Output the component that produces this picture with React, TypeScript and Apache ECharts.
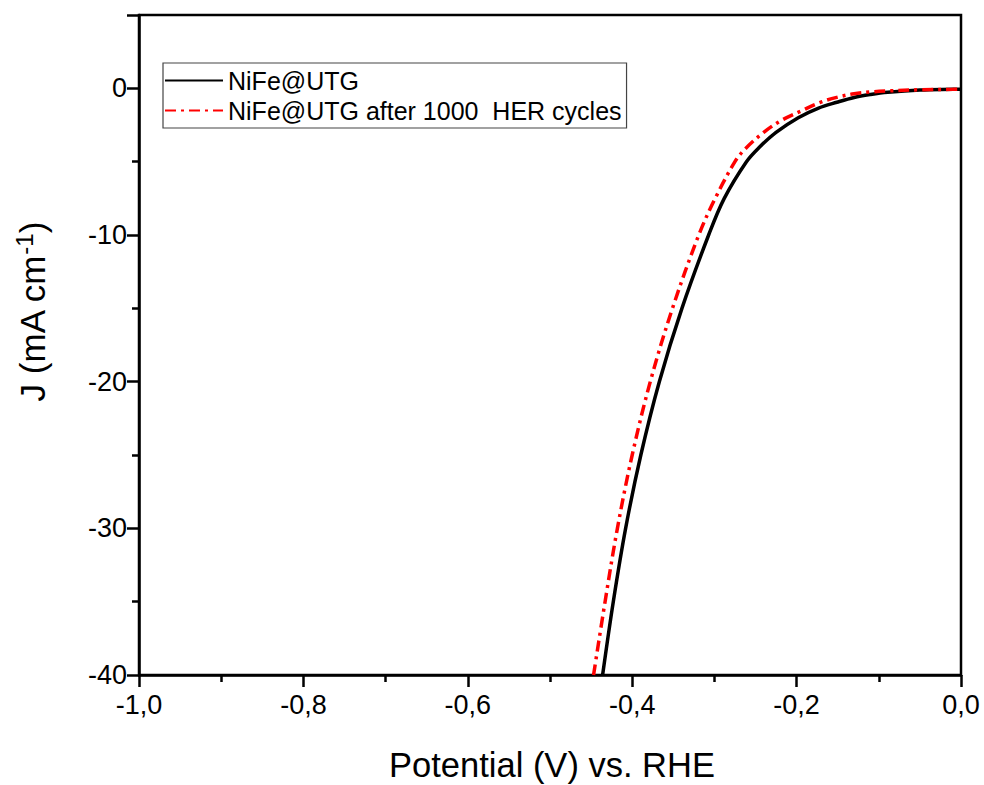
import React, { useEffect, useRef } from "react";
import * as echarts from "echarts";

const seriesNames = ["NiFe@UTG", "NiFe@UTG after 1000  HER cycles"];

// [potential (V vs RHE), current density (mA cm-1)]
const freshCurve: [number, number][] = [
  [-0.436, -40], [-0.423, -35], [-0.408, -30], [-0.3895, -25], [-0.367, -20],
  [-0.3395, -15], [-0.307, -10], [-0.288, -7.5], [-0.261, -5], [-0.245, -4],
  [-0.225, -3], [-0.198, -2.0], [-0.174, -1.36], [-0.151, -0.95], [-0.130, -0.62],
  [-0.110, -0.42], [-0.089, -0.27], [-0.050, -0.12], [-0.010, -0.07], [0, -0.06],
];
const cycledCurve: [number, number][] = [
  [-0.447, -40], [-0.433, -35], [-0.418, -30], [-0.400, -25], [-0.378, -20],
  [-0.351, -15], [-0.319, -10], [-0.299, -7.5], [-0.275, -5], [-0.262, -4.1],
  [-0.240, -3.0], [-0.219, -2.2], [-0.193, -1.5], [-0.171, -0.95], [-0.150, -0.6],
  [-0.130, -0.37], [-0.110, -0.25], [-0.089, -0.18], [-0.050, -0.1], [-0.010, -0.07], [0, -0.06],
];

const xMin = -1.0, xMax = 0.0, xStep = 0.2;
const yMin = -40, yMax = 5, yStep = 10;

const FONT = "Liberation Sans, Arial, sans-serif";

export default function App() {
  const ref = useRef<HTMLDivElement>(null);
  useEffect(() => {
    if (!ref.current) return;
    const chart = echarts.init(ref.current, undefined, { renderer: "svg" });
    chart.setOption({
      animation: false,
      backgroundColor: "#ffffff",
      grid: {
        left: 139, top: 15, right: 23, bottom: 110,
        show: true, borderColor: "#000", borderWidth: 2.5, backgroundColor: "transparent",
      },
      legend: {
        orient: "vertical",
        left: 163, top: 63,
        data: seriesNames,
        itemWidth: 58, itemHeight: 14, itemGap: 5,
        padding: [5, 5, 5, 1],
        borderColor: "#444", borderWidth: 1.2,
        itemStyle: { opacity: 0 },
        textStyle: { fontFamily: FONT, fontSize: 25, color: "#000", padding: [0, 0, 0, 0] },
      },
      xAxis: {
        type: "value", min: xMin, max: xMax, interval: xStep,
        axisLine: { show: true, onZero: false, lineStyle: { color: "#000", width: 2.5 } },
        axisTick: { show: true, inside: false, length: 12, lineStyle: { color: "#000", width: 2.5 } },
        minorTick: { show: true, splitNumber: 2, length: 7, lineStyle: { color: "#000", width: 2.5 } },
        splitLine: { show: false },
        axisLabel: {
          fontFamily: FONT, fontSize: 27, color: "#000", margin: 16,
          formatter: (v: number) => v.toFixed(1).replace(".", ","),
        },
      },
      yAxis: {
        type: "value", min: yMin, max: yMax, interval: yStep,
        axisLine: { show: true, onZero: false, lineStyle: { color: "#000", width: 2.5 } },
        axisTick: { show: true, inside: false, length: 12, lineStyle: { color: "#000", width: 2.5 } },
        minorTick: { show: true, splitNumber: 2, length: 7, lineStyle: { color: "#000", width: 2.5 } },
        splitLine: { show: false },
        axisLabel: {
          fontFamily: FONT, fontSize: 27, color: "#000", margin: 12,
          formatter: (v: number) => (v > 0 ? "" : String(v)),
        },
      },
      graphic: [
        {
          type: "text",
          x: 552, y: 765,
          style: {
            text: "Potential (V) vs. RHE",
            font: `34.5px ${FONT}`,
            fill: "#000",
            textAlign: "center",
            textVerticalAlign: "middle",
          },
        },
        {
          type: "text",
          x: 32, y: 312,
          rotation: Math.PI / 2,
          style: {
            text: "{a|J (mA cm}{s|-1}{a|)}",
            textAlign: "center",
            textVerticalAlign: "middle",
            rich: {
              a: { fontFamily: FONT, fontSize: 35, fill: "#000", lineHeight: 40 },
              s: { fontFamily: FONT, fontSize: 24, fill: "#000", verticalAlign: "top", lineHeight: 40, padding: [0, 0, 14, 0] },
            },
          },
        },
      ],
      series: [
        {
          name: seriesNames[0],
          type: "line",
          data: freshCurve,
          smooth: 0.35,
          symbol: "none",
          lineStyle: { color: "#000", width: 3.5, type: "solid" },
          itemStyle: { color: "#000" },
          z: 3,
        },
        {
          name: seriesNames[1],
          type: "line",
          data: cycledCurve,
          smooth: 0.35,
          symbol: "none",
          lineStyle: { color: "#ff0000", width: 3.5, type: [11, 5, 3, 5] },
          itemStyle: { color: "#ff0000" },
          z: 4,
        },
      ],
    });
    return () => chart.dispose();
  }, []);
  return (
    <div
      ref={ref}
      style={{ position: "absolute", left: 0, top: 0, width: 984, height: 785, background: "#fff" }}
    />
  );
}
